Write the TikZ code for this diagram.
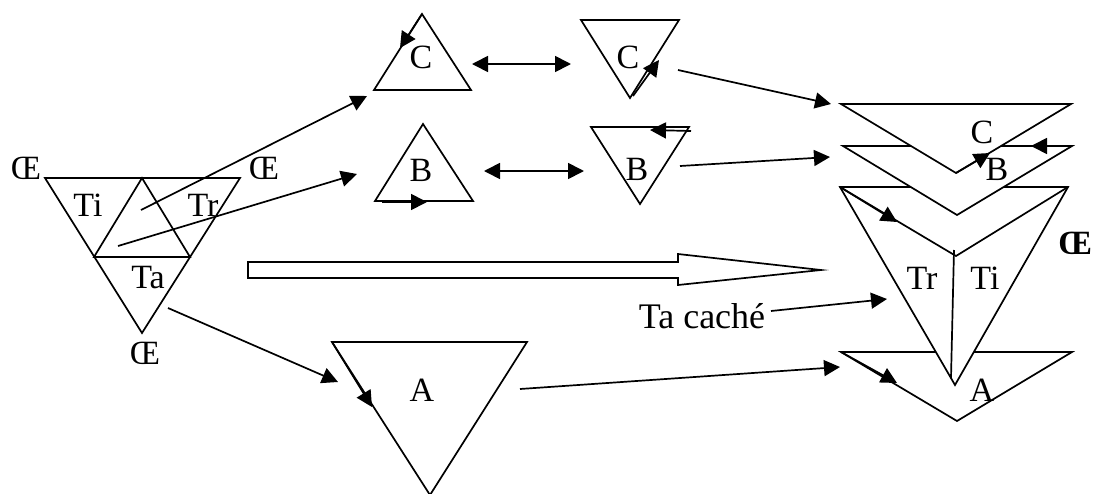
\documentclass[tikz,border=0pt]{standalone}
\usepackage{fontspec}
\setmainfont{Liberation Serif}
\usetikzlibrary{arrows.meta}
\tikzset{
  edge/.style={draw=black,line width=1.7pt,line join=miter},
  tri/.style={edge,fill=white},
  arr/.style={line width=1.7pt,-{Triangle[length=16pt,width=16pt]}},
  dbl/.style={line width=1.7pt,{Triangle[length=16pt,width=16pt]}-{Triangle[length=16pt,width=16pt]}},
  lab/.style={inner sep=0pt,font=\fontsize{34}{34}\selectfont},
  blab/.style={lab,font=\fontsize{34}{34}\selectfont\bfseries},
  widelab/.style={inner sep=0pt,font=\fontsize{36}{36}\selectfont}
}
\begin{document}
\begin{tikzpicture}[x=1pt,y=-1pt]
\useasboundingbox (0,0) rectangle (1093,493);
\clip (0,0) rectangle (1093,493);
% named points
\coordinate (La) at (45,178); \coordinate (Lb) at (240,178); \coordinate (Lc) at (142,333);
\coordinate (Lt) at (142,178); \coordinate (Ll) at (94,257); \coordinate (Lr) at (190,257);
\coordinate (sC) at (141,210); \coordinate (sB) at (118,246); \coordinate (sA) at (168,308);
\coordinate (C1a) at (422,14); \coordinate (C1b) at (471,90); \coordinate (C1c) at (374,90);
\coordinate (C1t) at (400,48); \coordinate (C1in) at (367,96);
\coordinate (C2a) at (581,20); \coordinate (C2b) at (679,20); \coordinate (C2c) at (630,98);
\coordinate (C2s) at (633,96); \coordinate (C2t) at (659,60);
\coordinate (B1a) at (423,124); \coordinate (B1b) at (473,201); \coordinate (B1c) at (375,201);
\coordinate (B1s) at (382,202); \coordinate (B1t) at (427,202); \coordinate (B1in) at (357,174);
\coordinate (B2a) at (591,127); \coordinate (B2b) at (689,127); \coordinate (B2c) at (640,204);
\coordinate (B2s) at (691,131); \coordinate (B2t) at (650,130);
\coordinate (dCl) at (472,64); \coordinate (dCr) at (571,64);
\coordinate (dBl) at (484,171); \coordinate (dBr) at (584,171);
\coordinate (oC) at (678,70); \coordinate (tC) at (831,104);
\coordinate (oB) at (680,166); \coordinate (tB) at (830,157);
\coordinate (A1a) at (332,342); \coordinate (A1b) at (527,342); \coordinate (A1c) at (430,495);
\coordinate (A1t) at (372,407); \coordinate (A1in) at (338,382);
\coordinate (oA) at (520,389); \coordinate (tA) at (840,367);
\coordinate (SCa) at (841,104); \coordinate (SCb) at (1071,104); \coordinate (SCc) at (956,173);
\coordinate (SCt) at (990,153);
\coordinate (SBa) at (843,146); \coordinate (SBb) at (1072,146); \coordinate (SBc) at (957,215);
\coordinate (SBt) at (1031,146);
\coordinate (SRa) at (840,187); \coordinate (SRb) at (1068,187); \coordinate (SRc) at (955,385);
\coordinate (SRv) at (956,256); \coordinate (SRt) at (897,222);
\coordinate (SRu) at (954,250); \coordinate (SRd) at (951,378);
\coordinate (SAa) at (841,352); \coordinate (SAb) at (1072,352); \coordinate (SAc) at (957,421);
\coordinate (SAt) at (897,383);
\coordinate (oT) at (771,311); \coordinate (tT) at (887,299);
% left triangle
\draw[edge] (La) -- (Lb) -- (Lc) -- cycle;
\draw[edge] (Lt) -- (Ll) -- (Lr) -- cycle;
\node[lab] (tOl) at (26,168) {Œ};
\node[lab] (tOr) at (264,168) {Œ};
\node[lab] (tOb) at (145,353) {Œ};
\node[lab] (tTi) at (88,205) {Ti};
\node[lab] (tTr) at (203,205) {Tr};
\node[lab] (tTa) at (148,278) {Ta};
% small triangles
\draw[edge] (C1a) -- (C1b) -- (C1c) -- cycle;
\draw[edge] (C2a) -- (C2b) -- (C2c) -- cycle;
\draw[edge] (B1a) -- (B1b) -- (B1c) -- cycle;
\draw[edge] (B2a) -- (B2b) -- (B2c) -- cycle;
\draw[edge] (A1a) -- (A1b) -- (A1c) -- cycle;
\node[lab] (lC1) at (421,57) {C};
\node[lab] (lC2) at (628,57) {C};
\node[lab] (lB1) at (421,170) {B};
\node[lab] (lB2) at (637,169) {B};
\node[lab] (lA1) at (422,390) {A};
\draw[arr] (C1a) -- (C1t);
\draw[arr] (C2s) -- (C2t);
\draw[arr] (B1s) -- (B1t);
\draw[arr] (B2s) -- (B2t);
\draw[arr] (A1a) -- (A1t);
% connectors
\draw[arr] (sC) -- (C1in);
\draw[arr] (sB) -- (B1in);
\draw[arr] (sA) -- (A1in);
\draw[dbl] (dCl) -- (dCr);
\draw[dbl] (dBl) -- (dBr);
\draw[arr] (oC) -- (tC);
\draw[arr] (oB) -- (tB);
\draw[arr] (oA) -- (tA);
% hollow arrow
\draw[tri] (248,262) -- (678,262) -- (678,254) -- (821,270) -- (678,285) -- (678,278) -- (248,278) -- cycle;
% right stack
\draw[tri] (SAa) -- (SAb) -- (SAc) -- cycle;
\draw[tri] (SRa) -- (SRb) -- (SRc) -- cycle;
\draw[edge] (SRa) -- (SRv) -- (SRb);
\draw[edge] (SRu) -- (SRd);
\draw[tri] (SBa) -- (SBb) -- (SBc) -- cycle;
\draw[tri] (SCa) -- (SCb) -- (SCc) -- cycle;
\draw[arr] (SCc) -- (SCt);
\draw[arr] (SBb) -- (SBt);
\draw[arr] (SRa) -- (SRt);
\draw[arr] (SAa) -- (SAt);
\node[lab] (lSC) at (982,132) {C};
\node[lab] (lSB) at (997,169) {B};
\node[lab] (lTr) at (922,278) {Tr};
\node[lab] (lTi) at (985,278) {Ti};
\node[lab] (lSA) at (982,390) {A};
\node[blab] (lOE) at (1075,243) {Œ};
\node[widelab] (lTc) at (702,316) {Ta caché};
\draw[arr] (oT) -- (tT);
\end{tikzpicture}
\end{document}
